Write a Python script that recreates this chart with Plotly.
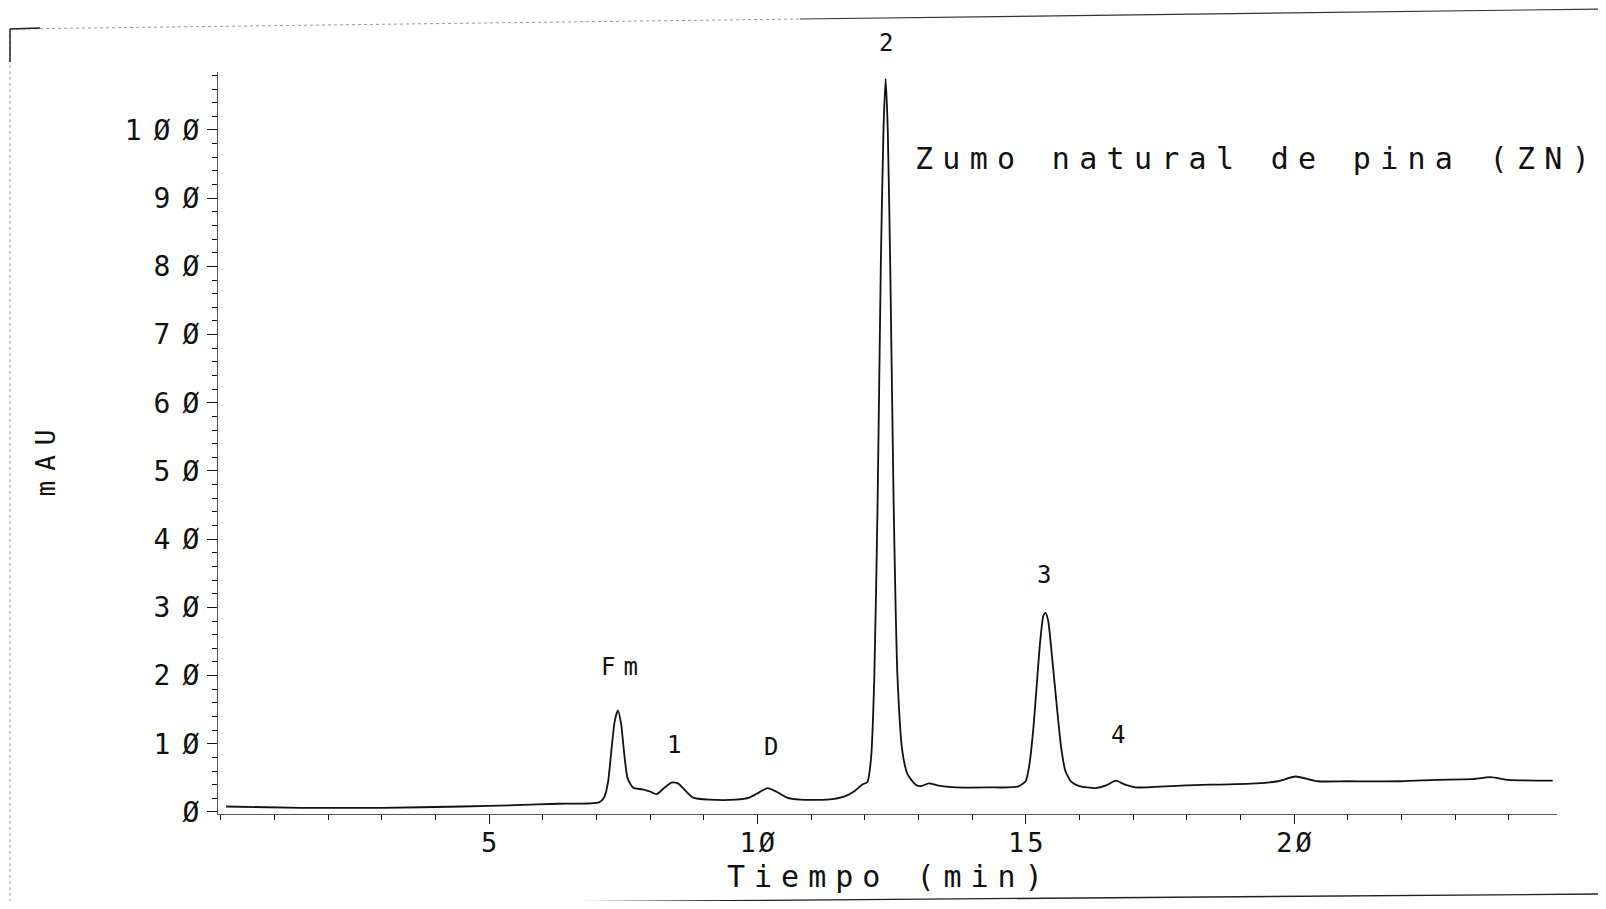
import plotly.graph_objects as go

# chromatogram: time (min) and absorbance (mAU)
tiempo = [0.1, 1.5, 3.0, 4.5, 5.5, 6.3, 7.05, 7.15, 7.22, 7.28, 7.34, 7.40, 7.46, 7.52, 7.58,
          7.68, 7.86, 8.0, 8.12, 8.26, 8.40, 8.52, 8.65, 8.8, 9.1, 9.6, 9.85, 10.02, 10.19,
          10.35, 10.55, 10.8, 11.3, 11.6, 11.8, 11.95, 12.05, 12.12, 12.18, 12.24, 12.30,
          12.35, 12.39, 12.43, 12.48, 12.54, 12.61, 12.70, 12.80, 12.95, 13.05, 13.2, 13.35,
          13.7, 14.3, 14.85, 15.0, 15.07, 15.14, 15.2, 15.27, 15.33, 15.37, 15.42, 15.5,
          15.58, 15.66, 15.74, 15.85, 16.0, 16.3, 16.5, 16.68, 16.85, 17.05, 18.0, 19.3,
          19.7, 20.03, 20.44, 21.0, 22.0, 22.66, 23.3, 23.66, 24.0, 24.82]
mau = [0.8, 0.6, 0.6, 0.8, 1.0, 1.2, 1.4, 2.2, 4.5, 9.0, 13.2, 14.9, 13.0, 8.5, 5.0,
       3.6, 3.3, 3.0, 2.6, 3.5, 4.3, 4.2, 3.2, 2.1, 1.8, 1.8, 2.1, 2.8, 3.5,
       3.0, 2.1, 1.8, 1.8, 2.2, 3.0, 4.0, 4.4, 8.0, 20.0, 45.0, 80.0,
       100.0, 107.5, 100.0, 78.0, 45.0, 20.0, 9.0, 5.5, 4.0, 3.8, 4.2, 3.9,
       3.6, 3.6, 3.7, 4.5, 7.0, 12.0, 18.0, 25.0, 28.8, 29.2, 28.0, 22.0,
       15.5, 9.5, 6.0, 4.4, 3.8, 3.5, 3.9, 4.6, 4.0, 3.6, 3.9, 4.2,
       4.5, 5.2, 4.5, 4.5, 4.5, 4.7, 4.8, 5.1, 4.7, 4.6]

y_tick_vals = [0, 10, 20, 30, 40, 50, 60, 70, 80, 90, 100]
y_tick_labels = ["Ø", "1Ø", "2Ø", "3Ø", "4Ø", "5Ø", "6Ø", "7Ø", "8Ø", "9Ø", "1ØØ"]
x_tick_vals = [5, 10, 15, 20]
x_tick_labels = ["5", "1Ø", "15", "2Ø"]

peak_names = ["Fm", "1", "D", "2", "3", "4"]

FONT = "DejaVu Sans Mono"
INK = "#111111"

# page body has an 8px margin, so the figure is drawn 8px smaller
OFF = 8
W, H = 1606 - 2 * OFF, 909 - 2 * OFF
L, R, T, B = 218 - OFF, 1557 - OFF, 72 - OFF, 814 - OFF


def spaced(text, px):
    # plotter-style wide letter pitch, no trailing gap after the last glyph
    if len(text) < 2:
        return text
    return f'<span style="letter-spacing:{px}px">{text[:-1]}</span>{text[-1]}'


def px_x(px):
    return (px - OFF - L) / (R - L)


def px_y(py):
    return (B - (py - OFF)) / (B - T)


fig = go.Figure()
fig.add_trace(go.Scatter(
    x=tiempo, y=mau, mode="lines",
    line=dict(color=INK, width=1.8, shape="spline", smoothing=0.6),
    hoverinfo="x+y", showlegend=False,
))

# peak labels (placement only)
label_pos = {"Fm": (7.44, 21.2), "1": (8.45, 9.8), "D": (10.25, 9.5),
             "3": (15.34, 34.8), "4": (16.72, 11.3)}
for name in peak_names:
    if name == "2":
        fig.add_annotation(x=12.39, y=px_y(43), yref="paper", yanchor="middle",
                           text=name, showarrow=False,
                           font=dict(family=FONT, size=24, color=INK))
        continue
    lx, ly = label_pos[name]
    fig.add_annotation(x=lx, y=ly, text=spaced(name, 8), showarrow=False,
                       font=dict(family=FONT, size=24, color=INK))

fig.add_annotation(x=12.9, y=95.8, xanchor="left", text=spaced("Zumo natural de pina (ZN)", 9.3),
                   showarrow=False, font=dict(family=FONT, size=30, color=INK))
fig.add_annotation(x=9.39, xanchor="left", y=px_y(876), yref="paper", yanchor="middle",
                   text=spaced("Tiempo (min)", 9), showarrow=False,
                   font=dict(family=FONT, size=30, color=INK))
fig.add_annotation(x=px_x(46), xref="paper", xanchor="center", y=51.1, yanchor="middle",
                   textangle=-90, text=spaced("mAU", 10), showarrow=False,
                   font=dict(family=FONT, size=26, color=INK))

# scanned page frame (page pixels)
frame = [
    dict(x0=10, y0=29, x1=800, y1=19, color="#9a9a9a", dash="dot", width=1),
    dict(x0=800, y0=19, x1=1606, y1=9, color="#333333", dash="solid", width=1.2),
    dict(x0=10, y0=29, x1=10, y1=909, color="#9a9a9a", dash="dot", width=1),
    dict(x0=10, y0=29, x1=10, y1=62, color="#222222", dash="solid", width=1.5),
    dict(x0=10, y0=29, x1=40, y1=28, color="#222222", dash="solid", width=1.5),
    dict(x0=143, y0=905, x1=1606, y1=894, color="#222222", dash="solid", width=1.4),
]
for f in frame:
    fig.add_shape(type="line", xref="paper", yref="paper",
                  x0=px_x(f["x0"]), x1=px_x(f["x1"]), y0=px_y(f["y0"]), y1=px_y(f["y1"]),
                  line=dict(color=f["color"], dash=f["dash"], width=f["width"]))

fig.update_xaxes(
    range=[-0.05, 24.9], showgrid=False, zeroline=False,
    showline=True, linecolor="#555555", linewidth=1.2,
    tickmode="array", tickvals=x_tick_vals, ticktext=[spaced(t, 3) for t in x_tick_labels],
    ticks="outside", ticklen=9, tickcolor=INK, tickwidth=1.2,
    minor=dict(dtick=1, ticks="outside", ticklen=5, tickcolor=INK, tickwidth=1),
    tickfont=dict(family=FONT, size=27, color=INK), ticklabelstandoff=-5,
)
fig.update_yaxes(
    range=[-0.3, 108.5], showgrid=False, zeroline=False,
    showline=True, linecolor="#555555", linewidth=1.2,
    tickmode="array", tickvals=y_tick_vals, ticktext=[spaced(t, 12) for t in y_tick_labels],
    ticks="outside", ticklen=10, tickcolor=INK, tickwidth=1.2,
    minor=dict(dtick=2, ticks="outside", ticklen=5, tickcolor=INK, tickwidth=1),
    tickfont=dict(family=FONT, size=28, color=INK), ticklabelstandoff=2,
)
fig.update_layout(
    width=W, height=H,
    margin=dict(l=L, r=W - R, t=T, b=H - B),
    paper_bgcolor="white", plot_bgcolor="white",
    showlegend=False,
)

fig.write_html("out.html")
